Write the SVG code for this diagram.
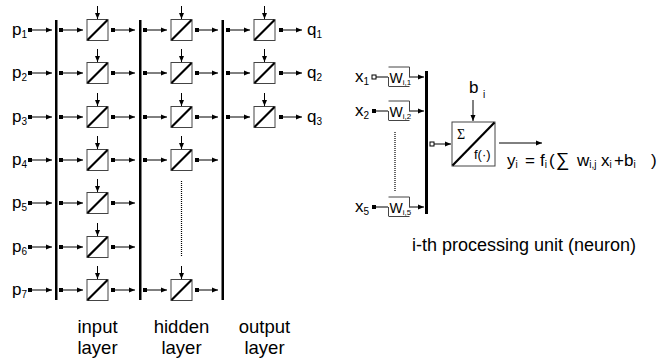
<svg xmlns="http://www.w3.org/2000/svg" xmlns:xlink="http://www.w3.org/1999/xlink" width="671" height="360" viewBox="0 0 671 360">
<style>
.t{font-family:"Liberation Sans",Arial,sans-serif;font-size:17px;fill:#000}
.s{font-size:10px}
.big{font-family:"Liberation Sans",Arial,sans-serif;font-size:18.5px;fill:#000}
.sr{font-family:"Liberation Serif","Times New Roman",serif;fill:#000}
.c{stroke:#000;stroke-width:1;fill:none;marker-end:url(#arr)}
.cd{marker-start:url(#dot)}
.co{marker-start:url(#odot)}
.bar{fill:#000}
.wb{fill:none;stroke:#444;stroke-width:1}
</style>
<defs>
<marker id="arr" markerWidth="6" markerHeight="6" refX="6" refY="3" orient="auto" markerUnits="userSpaceOnUse"><path d="M0,0.5 L6,3 L0,5.5 z" fill="#000"/></marker>
<marker id="dot" markerWidth="4" markerHeight="4" refX="2" refY="2" markerUnits="userSpaceOnUse"><rect width="4" height="4" fill="#000"/></marker>
<marker id="odot" markerWidth="6" markerHeight="6" refX="3" refY="3" markerUnits="userSpaceOnUse"><rect x="1" y="1" width="4" height="4" fill="#fff" stroke="#000" stroke-width="1"/></marker>
<g id="u"><rect x="0" y="0" width="21" height="21" fill="#fff" stroke="#444" stroke-width="1"/><line x1="0.5" y1="20.5" x2="20.5" y2="0.5" stroke="#000" stroke-width="2.2"/></g>
</defs>

<!-- layer bars -->
<g id="bars">
<rect class="bar" x="55" y="20" width="2.5" height="280"/>
<rect class="bar" x="139" y="20" width="2.5" height="280"/>
<rect class="bar" x="221.5" y="20" width="2.5" height="280"/>
</g>

<!-- input labels -->
<g id="inputs">
<text class="t" x="12" y="35">p<tspan class="s" dy="3">1</tspan></text>
<text class="t" x="12" y="78">p<tspan class="s" dy="3">2</tspan></text>
<text class="t" x="12" y="122">p<tspan class="s" dy="3">3</tspan></text>
<text class="t" x="12" y="165">p<tspan class="s" dy="3">4</tspan></text>
<text class="t" x="12" y="208">p<tspan class="s" dy="3">5</tspan></text>
<text class="t" x="12" y="252">p<tspan class="s" dy="3">6</tspan></text>
<text class="t" x="12" y="295">p<tspan class="s" dy="3">7</tspan></text>
</g>
<g id="outputs">
<text class="t" x="307" y="35">q<tspan class="s" dy="3">1</tspan></text>
<text class="t" x="307" y="78">q<tspan class="s" dy="3">2</tspan></text>
<text class="t" x="307" y="122">q<tspan class="s" dy="3">3</tspan></text>
</g>

<!-- input layer units -->
<g id="in1"><use xlink:href="#u" x="87" y="19.5"/><line class="c" x1="97.5" y1="6" x2="97.5" y2="19"/></g>
<g id="in2"><use xlink:href="#u" x="87" y="62.5"/><line class="c" x1="97.5" y1="49" x2="97.5" y2="62"/></g>
<g id="in3"><use xlink:href="#u" x="87" y="106.5"/><line class="c" x1="97.5" y1="93" x2="97.5" y2="106"/></g>
<g id="in4"><use xlink:href="#u" x="87" y="149.5"/><line class="c" x1="97.5" y1="136" x2="97.5" y2="149"/></g>
<g id="in5"><use xlink:href="#u" x="87" y="192.5"/><line class="c" x1="97.5" y1="179" x2="97.5" y2="192"/></g>
<g id="in6"><use xlink:href="#u" x="87" y="236.5"/><line class="c" x1="97.5" y1="223" x2="97.5" y2="236"/></g>
<g id="in7"><use xlink:href="#u" x="87" y="279.5"/><line class="c" x1="97.5" y1="266" x2="97.5" y2="279"/></g>

<!-- hidden layer units -->
<g id="hid1"><use xlink:href="#u" x="171" y="19.5"/><line class="c" x1="181.5" y1="6" x2="181.5" y2="19"/></g>
<g id="hid2"><use xlink:href="#u" x="171" y="62.5"/><line class="c" x1="181.5" y1="49" x2="181.5" y2="62"/></g>
<g id="hid3"><use xlink:href="#u" x="171" y="106.5"/><line class="c" x1="181.5" y1="93" x2="181.5" y2="106"/></g>
<g id="hid4"><use xlink:href="#u" x="171" y="149.5"/><line class="c" x1="181.5" y1="136" x2="181.5" y2="149"/></g>
<g id="hid7"><use xlink:href="#u" x="171" y="279.5"/><line class="c" x1="181.5" y1="266" x2="181.5" y2="279"/></g>
<g id="hid-dots"><line x1="181.5" y1="181" x2="181.5" y2="257" stroke="#000" stroke-width="1.2" stroke-dasharray="1,1"/></g>

<!-- output layer units -->
<g id="out1"><use xlink:href="#u" x="254" y="19.5"/><line class="c" x1="264.5" y1="6" x2="264.5" y2="19"/></g>
<g id="out2"><use xlink:href="#u" x="254" y="62.5"/><line class="c" x1="264.5" y1="49" x2="264.5" y2="62"/></g>
<g id="out3"><use xlink:href="#u" x="254" y="106.5"/><line class="c" x1="264.5" y1="93" x2="264.5" y2="106"/></g>

<!-- connectors -->
<g id="connectors">
<line class="c cd" x1="30" y1="30" x2="52" y2="30"/>
<line class="c cd" x1="30" y1="73" x2="52" y2="73"/>
<line class="c cd" x1="30" y1="117" x2="52" y2="117"/>
<line class="c cd" x1="30" y1="160" x2="52" y2="160"/>
<line class="c cd" x1="30" y1="203" x2="52" y2="203"/>
<line class="c cd" x1="30" y1="247" x2="52" y2="247"/>
<line class="c cd" x1="30" y1="290" x2="52" y2="290"/>

<line class="c cd" x1="61" y1="30" x2="83" y2="30"/>
<line class="c cd" x1="61" y1="73" x2="83" y2="73"/>
<line class="c cd" x1="61" y1="117" x2="83" y2="117"/>
<line class="c cd" x1="61" y1="160" x2="83" y2="160"/>
<line class="c cd" x1="61" y1="203" x2="83" y2="203"/>
<line class="c cd" x1="61" y1="247" x2="83" y2="247"/>
<line class="c cd" x1="61" y1="290" x2="83" y2="290"/>

<line class="c cd" x1="113" y1="30" x2="135" y2="30"/>
<line class="c cd" x1="113" y1="73" x2="135" y2="73"/>
<line class="c cd" x1="113" y1="117" x2="135" y2="117"/>
<line class="c cd" x1="113" y1="160" x2="135" y2="160"/>
<line class="c cd" x1="113" y1="203" x2="135" y2="203"/>
<line class="c cd" x1="113" y1="247" x2="135" y2="247"/>
<line class="c cd" x1="113" y1="290" x2="135" y2="290"/>

<line class="c cd" x1="145" y1="30" x2="167" y2="30"/>
<line class="c cd" x1="145" y1="73" x2="167" y2="73"/>
<line class="c cd" x1="145" y1="117" x2="167" y2="117"/>
<line class="c cd" x1="145" y1="160" x2="167" y2="160"/>
<line class="c cd" x1="145" y1="290" x2="167" y2="290"/>

<line class="c cd" x1="197" y1="30" x2="218" y2="30"/>
<line class="c cd" x1="197" y1="73" x2="218" y2="73"/>
<line class="c cd" x1="197" y1="117" x2="218" y2="117"/>
<line class="c cd" x1="197" y1="160" x2="218" y2="160"/>
<line class="c cd" x1="197" y1="290" x2="218" y2="290"/>

<line class="c cd" x1="228" y1="30" x2="250" y2="30"/>
<line class="c cd" x1="228" y1="73" x2="250" y2="73"/>
<line class="c cd" x1="228" y1="117" x2="250" y2="117"/>

<line class="c cd" x1="281" y1="30" x2="302" y2="30"/>
<line class="c cd" x1="281" y1="73" x2="302" y2="73"/>
<line class="c cd" x1="281" y1="117" x2="302" y2="117"/>

<!-- neuron connectors -->
<line class="co" x1="374" y1="77" x2="388" y2="77" stroke="#000" stroke-width="1"/>
<line class="cd" x1="374" y1="111" x2="388" y2="111" stroke="#000" stroke-width="1"/>
<line class="cd" x1="374" y1="207" x2="388" y2="207" stroke="#000" stroke-width="1"/>
<line class="c" x1="409" y1="77" x2="424" y2="77"/>
<line class="c" x1="409" y1="111" x2="424" y2="111"/>
<line class="c" x1="409" y1="207" x2="424" y2="207"/>
<line class="c co" x1="432" y1="144" x2="451" y2="144"/>
<line class="c" x1="473" y1="100" x2="473" y2="121"/>
<line class="c" x1="499" y1="143" x2="542" y2="143"/>
</g>

<!-- layer captions -->
<g id="captions">
<text class="big" x="97.5" y="333" text-anchor="middle">input</text>
<text class="big" x="97.5" y="354" text-anchor="middle">layer</text>
<text class="big" x="181.5" y="333" text-anchor="middle">hidden</text>
<text class="big" x="181.5" y="354" text-anchor="middle">layer</text>
<text class="big" x="264.5" y="333" text-anchor="middle">output</text>
<text class="big" x="264.5" y="354" text-anchor="middle">layer</text>
</g>

<!-- neuron detail -->
<g id="neuron-inputs">
<text class="t" x="355" y="82">x<tspan class="s" dy="3">1</tspan></text>
<text class="t" x="355" y="116">x<tspan class="s" dy="3">2</tspan></text>
<text class="t" x="355" y="212">x<tspan class="s" dy="3">5</tspan></text>
<line x1="395" y1="132" x2="395" y2="192" stroke="#000" stroke-width="1.2" stroke-dasharray="1,1"/>
</g>
<g id="w1"><path class="wb" d="M388.5,86 V77 M388.5,67 H409.5 V77 M388.5,86.5 H409.5"/><text class="t" x="389.5" y="83" style="font-size:14px">W<tspan class="s" style="font-size:8px" dy="2">i,1</tspan></text></g>
<g id="w2"><path class="wb" d="M388.5,120 V111 M388.5,101 H409.5 V111 M388.5,120.5 H409.5"/><text class="t" x="389.5" y="117" style="font-size:14px">W<tspan class="s" style="font-size:8px" dy="2">i,2</tspan></text></g>
<g id="w5"><path class="wb" d="M388.5,216 V207 M388.5,197 H409.5 V207 M388.5,216.5 H409.5"/><text class="t" x="389.5" y="213" style="font-size:14px">W<tspan class="s" style="font-size:8px" dy="2">i,5</tspan></text></g>
<g id="sum-bar"><rect class="bar" x="425" y="71" width="3" height="143"/></g>
<g id="neuron">
<rect x="452" y="122" width="43" height="44" fill="#fff" stroke="#444" stroke-width="1"/>
<line x1="452.5" y1="165.5" x2="494.5" y2="122.5" stroke="#000" stroke-width="2.2"/>
<text class="sr" x="457" y="139" style="font-size:14px">Σ</text>
<text class="t" x="474" y="159" style="font-size:13px">f(·)</text>
</g>
<g id="bias"><text class="t" x="469" y="93">b</text><text class="t s" x="483" y="98">i</text></g>
<g id="formula">
<text class="t" x="507" y="166">y<tspan class="s" dy="2">i</tspan></text>
<text class="t" x="525" y="166">=</text>
<text class="t" x="540" y="166">f<tspan class="s" dy="2">i</tspan></text>
<text class="t" x="549" y="166">(</text>
<text class="t" x="556" y="166" style="font-size:19px">∑</text>
<text class="t" x="577" y="166">w<tspan class="s" dy="2">i,j</tspan></text>
<text class="t" x="601" y="166">x<tspan class="s" dy="2">i</tspan></text>
<text class="t" x="614" y="166">+b<tspan class="s" dy="2">i</tspan></text>
<text class="t" x="651" y="166">)</text>
</g>
<text class="big" x="412" y="251" style="font-size:18px">i-th processing unit (neuron)</text>
</svg>
